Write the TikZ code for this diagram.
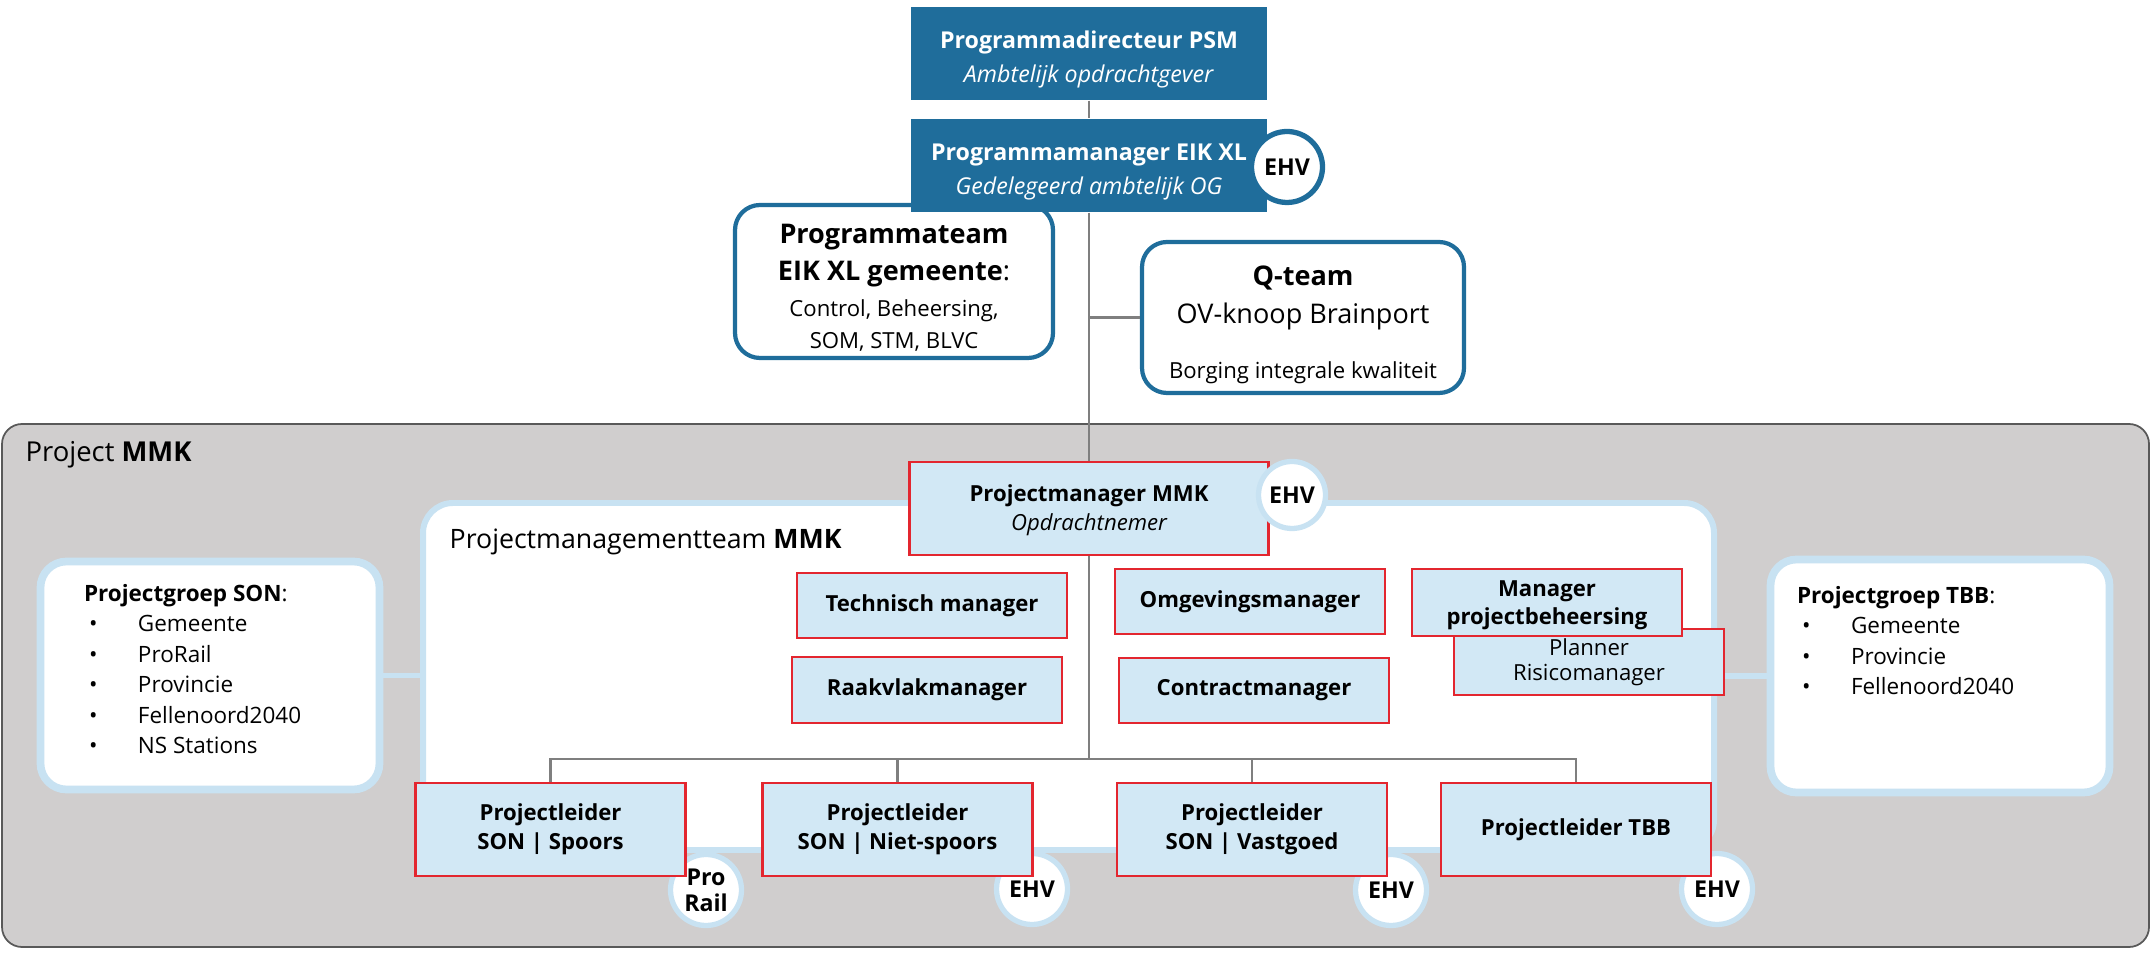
\documentclass[tikz,border=0pt]{standalone}
\usepackage{fontspec}
\setmainfont{Open Sans}
\usetikzlibrary{positioning}

\definecolor{psmblue}{HTML}{1F6D9B}
\definecolor{rolefill}{HTML}{D2E8F5}
\definecolor{rolered}{HTML}{E3262F}
\definecolor{ringblue}{HTML}{C8E2F2}
\definecolor{bggray}{HTML}{D0CECE}
\definecolor{edgegray}{HTML}{595959}
\definecolor{linegray}{HTML}{7F7F7F}

\newcommand{\grpitem}[1]{\makebox[5.4mm][l]{\hspace{0.5mm}\textbullet}#1\par}

\tikzset{
  topbox/.style={fill=psmblue, text=white, inner sep=0pt, minimum width=35.6mm, minimum height=9.3mm,
    align=center, font=\fontsize{6.6}{9.6}\selectfont},
  teambox/.style={draw=psmblue, fill=white, line width=1.2pt, rounded corners=2.5mm, inner sep=0pt,
    align=center, font=\fontsize{6.3}{9}\selectfont},
  rolebox/.style={draw=rolered, fill=rolefill, line width=0.6pt, inner sep=0pt, minimum width=27mm,
    align=center, font=\bfseries\fontsize{6.3}{8.2}\selectfont},
  groupbox/.style={draw=ringblue, fill=white, line width=2.2pt, rounded corners=2.6mm, inner sep=0pt},
  tag/.style={circle, fill=white, draw=ringblue, line width=1.5pt, inner sep=0pt, minimum size=7.1mm,
    align=center, font=\bfseries\fontsize{6.6}{7.4}\selectfont},
  link/.style={draw=linegray, line width=0.8pt},
  grouplink/.style={draw=ringblue, line width=1.7pt}
}

\begin{document}
\begin{tikzpicture}[x=0.1mm,y=-0.1mm]
\useasboundingbox (0,0) rectangle (2152,953);

% project frame
\node[draw=edgegray, fill=bggray, line width=0.5pt, rounded corners=2mm, inner sep=0pt,
  minimum width=214.7mm, minimum height=52.3mm] (project) at (1075.5,685.5) {};
\node[anchor=west, inner sep=0pt, font=\fontsize{7.8}{9}\selectfont] (projectlabel) at (25,455) {Project \textbf{MMK}};

% management team
\node[draw=ringblue, fill=white, line width=1.7pt, rounded corners=3mm, inner sep=0pt,
  minimum width=129.1mm, minimum height=34.7mm] (pmt) at (1068.5,676.5) {};
\node[anchor=west, inner sep=0pt, font=\fontsize{7.6}{9}\selectfont] (pmtlabel) at (449,542) {Projectmanagementteam \textbf{MMK}};

% project groups
\node[groupbox, minimum width=33.9mm, minimum height=22.8mm] (sonpg) at (210,675.5)
  {\begin{minipage}[c][18.3mm][t]{25.2mm}\fontsize{6.4}{8.7}\selectfont
   \textbf{Projectgroep SON}:\par
   \grpitem{Gemeente}\grpitem{ProRail}\grpitem{Provincie}\grpitem{Fellenoord2040}\grpitem{NS Stations}
   \end{minipage}};
\node[groupbox, minimum width=33.9mm, minimum height=23.3mm] (tbbpg) at (1940,676)
  {\begin{minipage}[c][18mm][t]{28.6mm}\fontsize{6.4}{8.7}\selectfont
   \textbf{Projectgroep TBB}:\par
   \grpitem{Gemeente}\grpitem{Provincie}\grpitem{Fellenoord2040}
   \end{minipage}};
\draw[grouplink] (sonpg.east) -- (sonpg.east -| pmt.west);
\draw[grouplink] (tbbpg.west) -- (tbbpg.west -| pmt.east);

% tags below the project leaders
\node[tag] (prorail) at (706,890) {Pro\\Rail};
\node[tag] (ehvniet) at (1032,889) {EHV};
\node[tag] (ehvvast) at (1391,890) {EHV};
\node[tag] (ehvtbb) at (1717,889) {EHV};

% project leaders
\node[rolebox, minimum height=9.3mm] (plspoor) at (550.5,829.5) {Projectleider\\SON | Spoors};
\node[rolebox, minimum height=9.3mm] (plniet) at (897.5,829.5) {Projectleider\\SON | Niet-spoors};
\node[rolebox, minimum height=9.3mm] (plvast) at (1252,829.5) {Projectleider\\SON | Vastgoed};
\node[rolebox, minimum height=9.3mm] (pltbb) at (1576,829.5) {Projectleider TBB};

% team members
\node[rolebox, minimum height=6.5mm] (tech) at (932,605.5) {Technisch manager};
\node[rolebox, minimum height=6.6mm] (raak) at (927,690) {Raakvlakmanager};
\node[rolebox, minimum height=6.5mm] (omg) at (1250,601.5) {Omgevingsmanager};
\node[rolebox, minimum height=6.5mm] (contract) at (1254,690.5) {Contractmanager};
\node[rolebox, minimum height=6.6mm, font=\fontsize{6.3}{7.1}\selectfont] (plan) at (1589,662) {Planner\\Risicomanager};
\node[rolebox, minimum height=6.7mm, font=\bfseries\fontsize{6.3}{7.9}\selectfont] (mpb) at (1547,602.5)
  {\rule{0pt}{6pt}Manager\\projectbeheersing};

% project manager
\node[rolebox, minimum width=35.9mm, minimum height=9.3mm] (pm) at (1089,508.5)
  {\rule{0pt}{6pt}Projectmanager MMK\\{\mdseries\itshape Opdrachtnemer}};
\node[tag, minimum size=6.7mm] (ehvpm) at (1292,495) {EHV};

% programme level
\node[teambox, minimum width=31.8mm, minimum height=15.3mm] (pgmteam) at (894,281.5)
  {{\bfseries\fontsize{7.7}{9}\selectfont\rule{0pt}{9pt}Programmateam}\\[1.6pt]
   {\bfseries\fontsize{7.7}{9}\selectfont EIK XL gemeente}{\fontsize{7.7}{9}\selectfont :}\\[1.2pt]
   Control, Beheersing,\\
   SOM, STM, BLVC};
\node[teambox, minimum width=32.2mm, minimum height=15.1mm] (qteam) at (1303,317.5)
  {{\bfseries\fontsize{7.7}{9}\selectfont\rule{0pt}{9.6pt}Q-team}\\[1.8pt]
   {\fontsize{7.7}{9}\selectfont OV-knoop Brainport}\\[6.6pt]
   Borging integrale kwaliteit};

\node[topbox] (psm) at (1089,53.5) {\rule{0pt}{8.5pt}\textbf{Programmadirecteur PSM}\\\textit{Ambtelijk opdrachtgever}};
\node[topbox] (pgm) at (1089,165.5) {\rule{0pt}{8.5pt}\textbf{Programmamanager EIK XL}\\\textit{Gedelegeerd ambtelijk OG}};
\node[tag, draw=psmblue, minimum size=7.1mm] (ehvpgm) at (1287,167) {EHV};

% connectors
\coordinate (bus) at (1089,759);
\draw[link] (psm.south) -- (pgm.north);
\draw[link] (pgm.south) -- (pm.north);
\draw[link] (pgm.south |- qteam.west) -- (qteam.west);
\draw[link] (pm.south) -- (bus);
\draw[link] (plspoor.north) |- (bus) -| (pltbb.north);
\draw[link] (plniet.north) -- (plniet.north |- bus);
\draw[link] (plvast.north) -- (plvast.north |- bus);
\end{tikzpicture}
\end{document}
